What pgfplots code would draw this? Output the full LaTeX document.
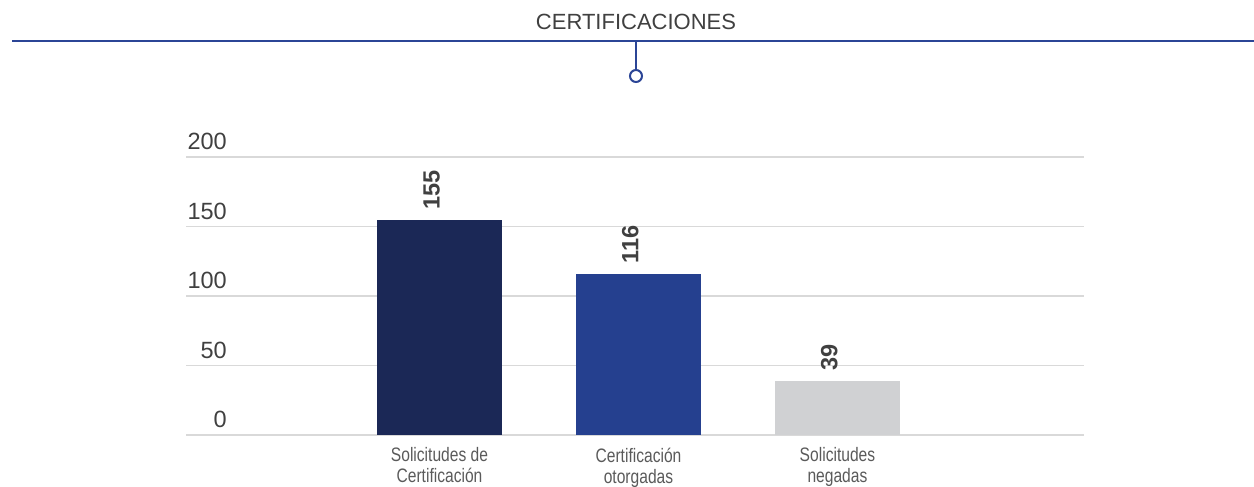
\documentclass[border=0pt]{standalone}
\usepackage{pgfplots}
\pgfplotsset{compat=1.18}
\usepackage{fontspec}
\setmainfont{Liberation Sans}
\newfontfamily\condfont[FakeStretch=0.8]{Liberation Sans}
\definecolor{navy}{HTML}{1B2856}
\definecolor{blue2}{HTML}{25408F}
\definecolor{lgray}{HTML}{D0D1D3}
\definecolor{linecol}{HTML}{2B4596}
\definecolor{txt}{HTML}{404040}
\definecolor{lbl}{HTML}{5A5A5A}
\definecolor{gridc}{HTML}{D9D9D9}
\begin{document}
\begin{tikzpicture}
\useasboundingbox (0pt,0pt) rectangle (1254pt,-487pt);
\node[font=\fontsize{22}{26}\selectfont, text=txt, anchor=base] at (636pt,-30pt) {CERTIFICACIONES};
\draw[linecol, line width=2pt] (12pt,-41pt) -- (1254pt,-41pt);
\draw[linecol, line width=2pt] (636pt,-41pt) -- (636pt,-70pt);
\draw[linecol, line width=2pt, fill=white] (636pt,-76pt) circle (6pt);
\begin{axis}[
  at={(186pt,-435pt)}, anchor=south west,
  scale only axis, width=898pt, height=278pt,
  xmin=-1.274, xmax=3.239, ymin=0, ymax=200,
  axis line style={draw=none},
  major tick length=0pt,
  ymajorgrids, grid style={gridc, line width=1.5pt},
  /pgf/number format/assume math mode=true,
  ytick={0,50,100,150,200},
  yticklabel style={anchor=south east, inner sep=0pt, xshift=41pt, yshift=7pt,
    font=\fontsize{23.5}{25}\selectfont, text=txt},
  xtick={0,1,2},
  xticklabels={{Solicitudes de\\Certificación},{Certificación\\otorgadas},{Solicitudes\\negadas}},
  xticklabel style={align=center, font=\condfont\fontsize{19.5}{21}\selectfont, text=lbl,
    anchor=north, inner sep=0pt, yshift=-12.5pt},
  ybar, bar width=125pt,
  nodes near coords,
  nodes near coords style={rotate=90, anchor=base west, inner xsep=10pt, inner ysep=0pt,
    font=\bfseries\fontsize{23.5}{25}\selectfont, text=txt},
  clip=false,
]
\addplot[fill=navy, draw=none, bar shift=0pt] coordinates {(0,155)};
\addplot[fill=blue2, draw=none, bar shift=0pt] coordinates {(1,116)};
\addplot[fill=lgray, draw=none, bar shift=0pt] coordinates {(2,39)};
\end{axis}
\end{tikzpicture}
\end{document}
